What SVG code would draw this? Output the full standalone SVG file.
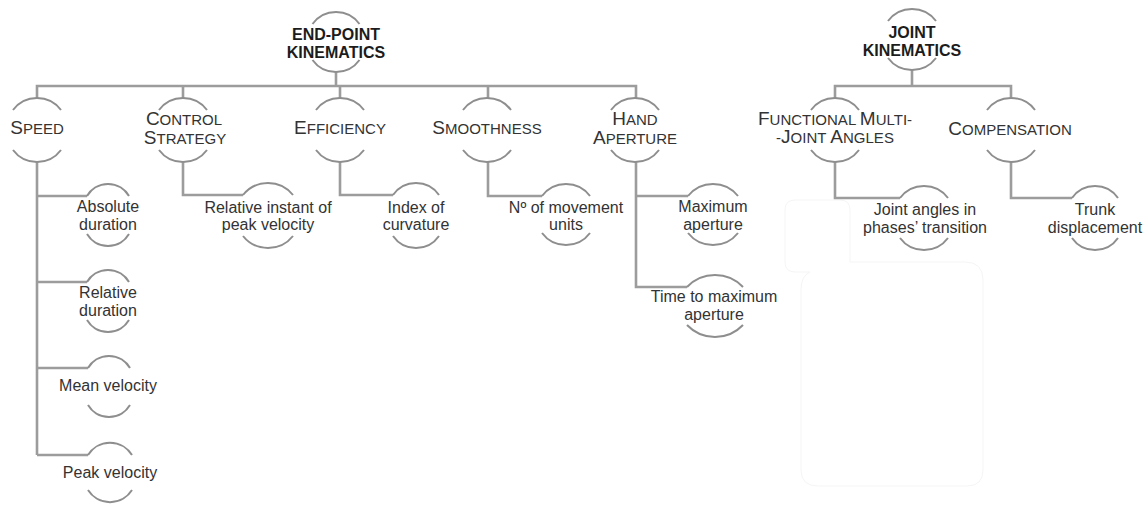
<svg xmlns="http://www.w3.org/2000/svg" width="1148" height="506" viewBox="0 0 1148 506">
<style>
.arc{fill:none;stroke:#8e8e8e;stroke-width:2}
.con{fill:none;stroke:#9c9c9c;stroke-width:2.6}
.root{font-family:"Liberation Sans",Arial,sans-serif;font-weight:bold;font-size:16px;fill:#1c1c1c;text-anchor:middle}
.cat{font-family:"Liberation Sans",Arial,sans-serif;font-size:15px;fill:#333;text-anchor:middle}
.cat .b{font-size:19px}
.leaf{font-family:"Liberation Sans",Arial,sans-serif;font-size:16px;fill:#333;text-anchor:middle}
.ghost{fill:none;stroke:#f5f5f5;stroke-width:1}
</style>
<rect width="1148" height="506" fill="#fff"/>
<path class="ghost" d="M795 200 H840 Q850 200 850 210 V262 H965 Q983 262 983 280 V470 Q983 486 967 486 H818 Q801 486 801 470 V290 Q801 276 810 272 H795 Q785 272 785 262 V210 Q785 200 795 200 Z"/>
<g id="connectors">
<path class="con" d="M336 72 V86"/>
<path class="con" d="M37 98 V86 H636 V98"/>
<path class="con" d="M183 86 V98 M340 86 V98 M488 86 V98"/>
<path class="con" d="M37 162 V455 M37 196 H87 M37 282 H87 M37 368 H88 M37 455 H88"/>
<path class="con" d="M183 162 V195 H243"/>
<path class="con" d="M340 162 V195 H393"/>
<path class="con" d="M488 162 V196 H542"/>
<path class="con" d="M636 162 V287 H687 M636 196 H688"/>
<path class="con" d="M912 70 V86"/>
<path class="con" d="M835 98 V86 H1011 V98"/>
<path class="con" d="M835 162 V198 H900"/>
<path class="con" d="M1011 162 V198 H1072"/>
</g>
<g id="end-point-kinematics">
<path class="arc" d="M312.5 24 A29 29 0 0 1 359.5 24 M312.5 60 A29 29 0 0 0 359.5 60"/>
<text class="root" x="336" y="40">END-POINT</text>
<text class="root" x="336" y="58">KINEMATICS</text>
</g>
<g id="joint-kinematics">
<path class="arc" d="M888 21 A30 30 0 0 1 936 21 M888 58 A30 30 0 0 0 936 58"/>
<text class="root" x="912" y="38">JOINT</text>
<text class="root" x="912" y="56">KINEMATICS</text>
</g>
<g id="speed">
<path class="arc" d="M13 110 A30 30 0 0 1 61 110 M13 150 A30 30 0 0 0 61 150"/>
<text class="cat" x="37" y="134"><tspan class="b">S</tspan>PEED</text>
</g>
<g id="control-strategy">
<path class="arc" d="M159 110 A30 30 0 0 1 207 110 M159 150 A30 30 0 0 0 207 150"/>
<text class="cat" x="184" y="125"><tspan class="b">C</tspan>ONTROL</text>
<text class="cat" x="185" y="144"><tspan class="b">S</tspan>TRATEGY</text>
</g>
<g id="efficiency">
<path class="arc" d="M316 110 A30 30 0 0 1 364 110 M316 150 A30 30 0 0 0 364 150"/>
<text class="cat" x="340" y="134"><tspan class="b">E</tspan>FFICIENCY</text>
</g>
<g id="smoothness">
<path class="arc" d="M463 110 A30 30 0 0 1 511 110 M463 150 A30 30 0 0 0 511 150"/>
<text class="cat" x="487" y="134"><tspan class="b">S</tspan>MOOTHNESS</text>
</g>
<g id="hand-aperture">
<path class="arc" d="M611 110 A30 30 0 0 1 659 110 M611 150 A30 30 0 0 0 659 150"/>
<text class="cat" x="635" y="125"><tspan class="b">H</tspan>AND</text>
<text class="cat" x="635" y="144"><tspan class="b">A</tspan>PERTURE</text>
</g>
<g id="functional-multi-joint-angles">
<path class="arc" d="M811 110 A30 30 0 0 1 859 110 M811 150 A30 30 0 0 0 859 150"/>
<text class="cat" x="835" y="125"><tspan class="b">F</tspan>UNCTIONAL <tspan class="b">M</tspan>ULTI-</text>
<text class="cat" x="835" y="143">-<tspan class="b">J</tspan>OINT <tspan class="b">A</tspan>NGLES</text>
</g>
<g id="compensation">
<path class="arc" d="M987 110 A30 30 0 0 1 1035 110 M987 150 A30 30 0 0 0 1035 150"/>
<text class="cat" x="1010" y="135"><tspan class="b">C</tspan>OMPENSATION</text>
</g>
<g id="absolute-duration">
<path class="arc" d="M87 196 A24.4 24.4 0 0 1 129 196 M87 234 A24.4 24.4 0 0 0 129 234"/>
<text class="leaf" x="108" y="212">Absolute</text>
<text class="leaf" x="108" y="230">duration</text>
</g>
<g id="relative-duration">
<path class="arc" d="M87 282 A24.4 24.4 0 0 1 129 282 M87 320 A24.4 24.4 0 0 0 129 320"/>
<text class="leaf" x="108" y="298">Relative</text>
<text class="leaf" x="108" y="316">duration</text>
</g>
<g id="mean-velocity">
<path class="arc" d="M88 368 A24.4 24.4 0 0 1 130 368 M88 405 A24.4 24.4 0 0 0 130 405"/>
<text class="leaf" x="108" y="391">Mean velocity</text>
</g>
<g id="peak-velocity">
<path class="arc" d="M88 455 A26 26 0 0 1 132 455 M88 490 A26 26 0 0 0 132 490"/>
<text class="leaf" x="110" y="478">Peak velocity</text>
</g>
<g id="relative-instant">
<path class="arc" d="M243 195 A32 32 0 0 1 293 195 M243 236 A32 32 0 0 0 293 236"/>
<text class="leaf" x="268" y="213">Relative instant of</text>
<text class="leaf" x="268" y="230">peak velocity</text>
</g>
<g id="index-of-curvature">
<path class="arc" d="M393 195 A28 28 0 0 1 439 195 M393 236 A28 28 0 0 0 439 236"/>
<text class="leaf" x="416" y="213">Index of</text>
<text class="leaf" x="416" y="230">curvature</text>
</g>
<g id="movement-units">
<path class="arc" d="M542 196 A30 30 0 0 1 590 196 M542 233 A30 30 0 0 0 590 233"/>
<text class="leaf" x="566" y="213">Nº of movement</text>
<text class="leaf" x="566" y="230">units</text>
</g>
<g id="maximum-aperture">
<path class="arc" d="M688 196 A32 32 0 0 1 738 196 M688 233 A32 32 0 0 0 738 233"/>
<text class="leaf" x="713" y="212">Maximum</text>
<text class="leaf" x="713" y="230">aperture</text>
</g>
<g id="time-to-maximum-aperture">
<path class="arc" d="M687 287 A38.7 38.7 0 0 1 743 287 M687 325 A38.7 38.7 0 0 0 743 325"/>
<text class="leaf" x="714" y="302">Time to maximum</text>
<text class="leaf" x="714" y="320">aperture</text>
</g>
<g id="joint-angles-transition">
<path class="arc" d="M900 198 A30 30 0 0 1 948 198 M900 238 A30 30 0 0 0 948 238"/>
<text class="leaf" x="925" y="215">Joint angles in</text>
<text class="leaf" x="925" y="233">phases’ transition</text>
</g>
<g id="trunk-displacement">
<path class="arc" d="M1072 198 A28 28 0 0 1 1118 198 M1072 238 A28 28 0 0 0 1118 238"/>
<text class="leaf" x="1095" y="215">Trunk</text>
<text class="leaf" x="1095" y="233">displacement</text>
</g>
</svg>
